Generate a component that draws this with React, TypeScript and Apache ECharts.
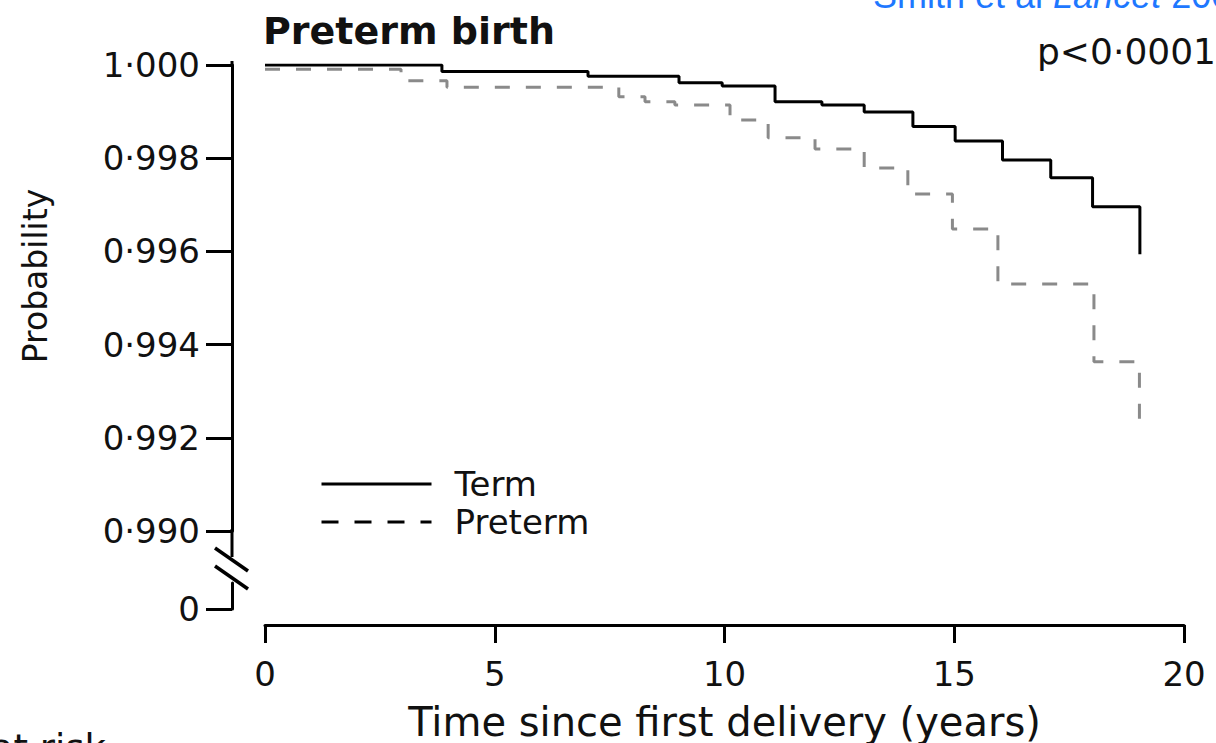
import React, { useEffect, useRef } from "react";
import * as echarts from "echarts";

// Kaplan–Meier style step data (years, probability)
const termTimes = [0, 3.85, 7.03, 9.01, 9.95, 11.1, 12.12, 13.04, 14.1, 15.02, 16.05, 17.1, 18.01, 19.04];
const termSurvival = [1.0, 0.99986, 0.99976, 0.99962, 0.99955, 0.99921, 0.99914, 0.99899, 0.99868, 0.99837, 0.99796, 0.99758, 0.99696, 0.99594];

const pretermTimes = [0, 2.96, 3.96, 7.7, 8.27, 8.92, 10.12, 10.95, 11.97, 13.04, 13.99, 14.96, 15.95, 18.04, 19.03];
const pretermSurvival = [0.99991, 0.99966, 0.99952, 0.99932, 0.99921, 0.99914, 0.99882, 0.99844, 0.9982, 0.99779, 0.99723, 0.99648, 0.9953, 0.99363, 0.99238];

const seriesNames = ["Term", "Preterm"];
const xTickValues = [0, 5, 10, 15, 20];
const yTickValues = [0.99, 0.992, 0.994, 0.996, 0.998, 1.0];
const yTickLabels = ["0·990", "0·992", "0·994", "0·996", "0·998", "1·000"];
const brokenAxisLabel = "0";

const FONT = "DejaVu Sans";

export default function App() {
  const ref = useRef<HTMLDivElement>(null);

  useEffect(() => {
    if (!ref.current) return;
    const chart = echarts.init(ref.current, null, { renderer: "svg" });

    const yLabel = (v: number) => {
      const idx = yTickValues.findIndex((t) => Math.abs(t - v) < 1e-7);
      return idx >= 0 ? yTickLabels[idx] : "";
    };

    const hiddenSymbol = { color: "rgba(0,0,0,0)", opacity: 0, borderWidth: 0 };

    const option: any = {
      animation: false,
      backgroundColor: "#ffffff",
      title: {
        text: "Preterm birth",
        left: 263,
        top: 12,
        padding: 0,
        textStyle: { fontFamily: FONT, fontSize: 38, fontWeight: "bold", color: "#111" },
      },
      legend: {
        orient: "vertical",
        left: 320,
        top: 465,
        itemWidth: 110,
        itemHeight: 20,
        itemGap: 0,
        padding: 0,
        selectedMode: false,
        textStyle: { fontFamily: FONT, fontSize: 34, color: "#111", lineHeight: 38, padding: [0, 0, 0, 18] },
        data: [
          { name: seriesNames[0], itemStyle: hiddenSymbol, lineStyle: { color: "#000", width: 3, type: "solid" } },
          { name: seriesNames[1], itemStyle: hiddenSymbol, lineStyle: { color: "#000", width: 3, type: [17, 16] } },
        ],
      },
      grid: [
        { left: 265, right: 32, top: 65, bottom: 212, outerBoundsMode: "none", containLabel: false },
        { left: 265, right: 32, top: 583, bottom: 134, outerBoundsMode: "none", containLabel: false },
      ],
      xAxis: [
        {
          gridIndex: 0,
          type: "value",
          min: xTickValues[0],
          max: xTickValues[xTickValues.length - 1],
          interval: 5,
          offset: 94,
          axisLine: { show: true, onZero: false, lineStyle: { color: "#000", width: 3 } },
          axisTick: { show: true, length: 18, lineStyle: { color: "#000", width: 3 } },
          axisLabel: { margin: 32, fontFamily: FONT, fontSize: 34, color: "#111" },
          splitLine: { show: false },
          name: "Time since first delivery (years)",
          nameLocation: "middle",
          nameGap: 77,
          nameTextStyle: { fontFamily: FONT, fontSize: 40, color: "#111" },
        },
        { gridIndex: 1, type: "value", min: 0, max: 20, show: false },
      ],
      yAxis: [
        {
          gridIndex: 0,
          type: "value",
          min: 0.99,
          max: 1.0,
          interval: 0.002,
          offset: 33,
          axisLine: { show: true, onZero: false, lineStyle: { color: "#000", width: 3 } },
          axisTick: { show: true, length: 26, lineStyle: { color: "#000", width: 3 } },
          axisLabel: { margin: 32, fontFamily: FONT, fontSize: 34, color: "#111", formatter: yLabel },
          splitLine: { show: false },
        },
        {
          gridIndex: 1,
          type: "value",
          min: 0,
          max: 1,
          interval: 1,
          offset: 33,
          axisLine: { show: true, onZero: false, lineStyle: { color: "#000", width: 3 } },
          axisTick: { show: true, length: 26, customValues: [0], lineStyle: { color: "#000", width: 3 } },
          axisLabel: {
            margin: 32,
            fontFamily: FONT,
            fontSize: 34,
            color: "#111",
            customValues: [0],
            formatter: (v: number) => (v === 0 ? brokenAxisLabel : ""),
          },
          splitLine: { show: false },
        },
      ],
      graphic: [
        { type: "line", shape: { x1: 232, y1: 61, x2: 232, y2: 66 }, style: { stroke: "#000", lineWidth: 3 } },
        { type: "line", shape: { x1: 232, y1: 529, x2: 232, y2: 557 }, style: { stroke: "#000", lineWidth: 3 } },
        { type: "line", shape: { x1: 215, y1: 548, x2: 248, y2: 571 }, style: { stroke: "#000", lineWidth: 3.5 } },
        { type: "line", shape: { x1: 215, y1: 566, x2: 248, y2: 589 }, style: { stroke: "#000", lineWidth: 3.5 } },
        {
          type: "text",
          x: 35,
          y: 276,
          rotation: Math.PI / 2,
          style: { text: "Probability", fontFamily: FONT, fontSize: 33, fill: "#111", align: "center", verticalAlign: "middle" },
        },
        {
          type: "text",
          x: 1216,
          y: 51,
          style: { text: "p<0·0001", fontFamily: FONT, fontSize: 36, fill: "#111", align: "right", verticalAlign: "middle" },
        },
        {
          type: "text",
          x: 873,
          y: -5,
          style: {
            text: "Smith et al {i|Lancet} 2002",
            fontFamily: "Liberation Sans",
            fontSize: 36,
            fill: "#1E78FF",
            align: "left",
            verticalAlign: "middle",
            rich: { i: { fontStyle: "italic", fontFamily: "Liberation Sans", fontSize: 36, fill: "#1E78FF" } },
          },
        },
        {
          type: "text",
          x: 106,
          y: 730,
          style: { text: "Number at risk", fontFamily: FONT, fontSize: 37, fill: "#111", align: "right", verticalAlign: "top" },
        },
      ],
      series: [
        {
          name: seriesNames[0],
          type: "line",
          xAxisIndex: 0,
          yAxisIndex: 0,
          step: "end",
          symbol: "none",
          itemStyle: { color: "#000" },
          lineStyle: { color: "#000", width: 3, type: "solid" },
          data: termTimes.map((t, i) => [t, termSurvival[i]]),
        },
        {
          name: seriesNames[1],
          type: "line",
          xAxisIndex: 0,
          yAxisIndex: 0,
          step: "end",
          symbol: "none",
          itemStyle: { color: "#8a8a8a" },
          lineStyle: { color: "#8a8a8a", width: 3, type: [15, 16] },
          data: pretermTimes.map((t, i) => [t, pretermSurvival[i]]),
        },
      ],
    };

    chart.setOption(option);
    return () => chart.dispose();
  }, []);

  return <div ref={ref} style={{ position: "absolute", left: 0, top: 0, width: 1216, height: 743 }} />;
}
